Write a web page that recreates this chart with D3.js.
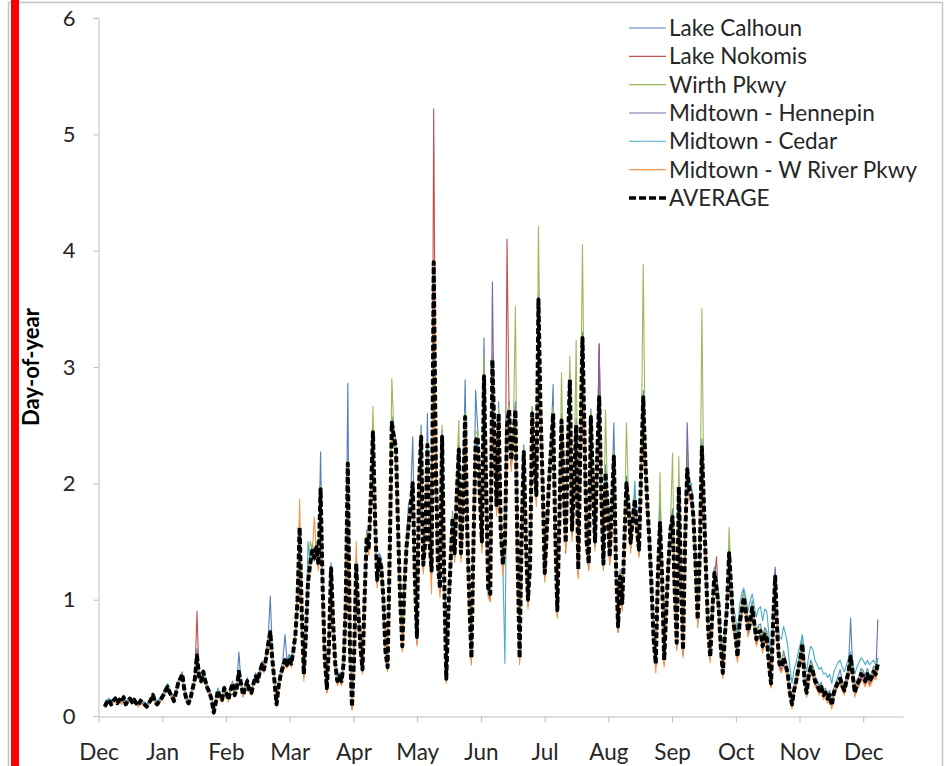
<!DOCTYPE html>
<html>
<head>
<meta charset="utf-8">
<script src="https://cdn.jsdelivr.net/npm/d3@7/dist/d3.min.js"></script>
<style>
  body { margin: 0; background: #fff; }
  svg { display: block; }
  text { font-family: Lato, "Open Sans", sans-serif; }
</style>
</head>
<body>
<svg id="chart" width="945" height="766"></svg>
<script>
// Month labels along the x axis and the value ticks on the y axis
const monthLabels = ["Dec","Jan","Feb","Mar","Apr","May","Jun","Jul","Aug","Sep","Oct","Nov","Dec"];
const yTicks = [0, 1, 2, 3, 4, 5, 6];
const firstDay = 3;          // first reading falls on the 4th day after the Dec tick
const daysPerMonth = 30.42;

const seriesNames = ["Lake Calhoun","Lake Nokomis","Wirth Pkwy","Midtown - Hennepin","Midtown - Cedar","Midtown - W River Pkwy"];
const seriesColors = ["#4F81BD","#C0504D","#9BBB59","#8064A2","#4BACC6","#F79646"];

// Daily values per station
const lakeCalhoun = [
0.10,0.14,0.15,0.12,0.14,0.17,0.13,0.15,0.13,0.18,0.12,0.15,0.16,0.14,0.15,0.12,0.11,0.15,0.13,0.12,0.10,0.12,0.16,0.20,0.14,0.12,0.15,
0.17,0.20,0.25,0.28,0.23,0.19,0.15,0.22,0.30,0.34,0.38,0.24,0.16,0.12,0.18,0.26,0.34,0.58,0.36,0.33,0.40,0.32,0.26,0.22,0.16,0.05,0.14,0.24,0.18,0.16,0.26,
0.22,0.16,0.24,0.30,0.20,0.27,0.55,0.30,0.20,0.26,0.33,0.24,0.22,0.30,0.37,0.33,0.41,0.47,0.43,0.54,0.68,1.03,0.52,0.32,0.12,0.29,0.40,0.48,0.70,0.47,0.53,
0.48,0.60,0.74,1.05,1.66,0.94,0.38,0.74,1.20,1.36,1.48,1.40,1.50,1.34,2.27,1.15,0.53,0.26,0.63,1.32,0.84,0.48,0.33,0.37,0.32,0.50,1.05,2.86,0.66,0.10,0.53,
1.36,0.95,0.63,0.43,1.05,1.60,1.50,1.96,2.50,1.75,1.22,1.40,1.36,1.05,0.58,0.45,1.45,2.58,2.46,2.36,1.66,1.05,0.63,1.16,1.52,1.83,1.88,2.40,1.26,0.72,
2.06,2.50,1.36,1.56,2.60,1.55,1.30,3.70,2.26,1.36,1.15,2.46,1.26,0.36,0.95,1.36,1.76,1.46,1.96,2.35,1.46,1.88,2.89,1.66,1.06,0.55,1.56,2.80,2.46,1.96,
1.56,3.25,2.06,1.16,1.10,3.10,2.46,1.86,2.70,1.66,1.36,1.56,2.56,2.70,2.26,2.46,2.70,1.46,0.55,1.66,2.33,1.56,1.06,1.36,2.66,2.26,1.96,3.62,2.66,2.06,
1.30,1.66,2.06,2.36,2.85,1.66,0.96,1.76,2.60,2.06,1.56,2.36,2.95,1.66,2.06,2.56,1.33,2.36,3.30,2.46,1.56,1.38,2.64,2.06,1.56,2.26,3.20,1.96,1.38,2.16,1.86,
1.44,1.86,2.52,1.36,0.82,1.26,1.02,1.56,2.06,1.86,1.55,1.76,1.92,1.66,1.50,2.16,2.80,2.26,1.86,1.55,1.16,0.70,0.50,1.26,1.90,1.26,0.53,0.96,1.36,1.66,
1.78,1.16,0.68,2.03,1.26,0.62,1.56,2.20,2.00,1.96,1.76,1.36,0.88,1.46,2.38,1.86,1.28,0.80,0.55,0.96,1.28,1.16,1.00,0.65,0.40,0.75,0.99,1.46,1.16,0.86,
0.76,0.56,0.86,0.96,1.08,0.96,0.78,0.86,0.99,0.86,0.72,0.78,0.79,0.66,0.76,0.73,0.50,0.32,0.86,1.26,0.76,0.50,0.47,0.56,0.49,0.40,0.24,0.13,0.26,0.34,
0.45,0.56,0.68,0.35,0.24,0.40,0.48,0.43,0.34,0.31,0.26,0.29,0.22,0.24,0.19,0.22,0.12,0.24,0.29,0.34,0.40,0.30,0.26,0.34,0.43,0.84,0.40,0.24,0.31,0.34,0.41,0.39,0.34,0.41,0.34,0.37,0.43,0.41,0.50
];
const lakeNokomis = [
0.07,0.11,0.13,0.09,0.12,0.14,0.10,0.13,0.11,0.15,0.09,0.12,0.14,0.11,0.13,0.10,0.08,0.12,0.11,0.09,0.07,0.10,0.13,0.17,0.11,0.09,0.12,
0.14,0.17,0.21,0.24,0.19,0.16,0.12,0.19,0.27,0.31,0.35,0.21,0.13,0.10,0.15,0.23,0.31,0.90,0.33,0.29,0.37,0.29,0.23,0.19,0.13,0.02,0.11,0.21,0.15,0.13,0.23,
0.19,0.13,0.21,0.27,0.17,0.23,0.37,0.27,0.17,0.23,0.29,0.21,0.19,0.27,0.33,0.29,0.37,0.43,0.39,0.49,0.61,0.70,0.47,0.29,0.09,0.25,0.35,0.41,0.47,0.43,0.49,
0.44,0.55,0.69,0.98,1.60,0.88,0.34,0.68,1.12,1.28,1.40,1.34,1.43,1.28,1.92,1.08,0.48,0.20,0.58,1.25,0.78,0.43,0.28,0.32,0.28,0.43,0.92,2.12,0.58,0.06,0.48,
1.28,0.88,0.58,0.38,0.98,1.51,1.42,1.86,2.40,1.66,1.14,1.32,1.25,0.97,0.52,0.40,1.36,2.48,2.36,2.26,1.56,0.97,0.58,1.07,1.42,1.60,1.76,1.96,1.16,0.62,
1.96,2.36,1.26,1.46,2.28,1.46,1.20,5.22,2.15,1.26,1.06,2.35,1.16,0.30,0.86,1.25,1.65,1.36,1.85,2.24,1.36,1.76,2.52,1.56,0.96,0.47,1.45,2.30,2.36,1.86,
1.45,2.88,1.96,1.05,1.00,3.00,2.35,1.75,2.55,1.55,1.25,1.45,4.10,2.58,2.15,2.35,2.58,1.35,0.47,1.55,2.22,1.45,0.95,1.25,2.55,2.15,1.85,3.52,2.55,1.95,
1.18,1.55,1.95,2.25,2.55,1.55,0.86,1.65,2.48,1.95,1.40,2.25,2.84,1.55,1.95,2.45,1.20,2.25,3.20,2.35,1.45,1.26,2.52,1.95,1.45,2.15,3.20,1.85,1.26,2.04,1.75,
1.30,1.75,2.18,1.25,0.72,1.15,0.92,1.45,1.95,1.75,1.44,1.65,1.81,1.55,1.38,2.05,2.68,2.15,1.75,1.44,1.05,0.60,0.42,1.15,1.60,1.15,0.44,0.85,1.25,1.55,
1.66,1.05,0.58,1.92,1.15,0.52,1.45,2.06,1.90,1.85,1.65,1.25,0.78,1.35,2.25,1.75,1.18,0.70,0.48,0.85,1.18,1.37,0.90,0.56,0.34,0.66,0.90,1.35,1.05,0.76,
0.66,0.48,0.76,0.86,0.98,0.86,0.70,0.76,0.89,0.76,0.62,0.68,0.69,0.56,0.66,0.63,0.42,0.25,0.76,1.16,0.66,0.42,0.39,0.46,0.41,0.33,0.18,0.08,0.20,0.27,
0.37,0.47,0.58,0.27,0.18,0.32,0.39,0.35,0.27,0.25,0.20,0.23,0.16,0.18,0.13,0.16,0.08,0.18,0.23,0.27,0.29,0.24,0.20,0.27,0.35,0.48,0.32,0.18,0.25,0.27,0.33,0.31,0.27,0.33,0.27,0.30,0.35,0.33,0.42
];
const wirthPkwy = [
0.09,0.13,0.12,0.11,0.14,0.13,0.12,0.15,0.11,0.15,0.11,0.12,0.16,0.13,0.13,0.12,0.10,0.12,0.13,0.11,0.09,0.12,0.13,0.17,0.13,0.11,0.12,
0.16,0.19,0.21,0.26,0.21,0.16,0.14,0.19,0.29,0.31,0.37,0.23,0.15,0.12,0.17,0.25,0.31,0.50,0.35,0.31,0.37,0.31,0.25,0.21,0.15,0.04,0.13,0.23,0.17,0.15,0.25,
0.21,0.15,0.23,0.29,0.19,0.25,0.37,0.29,0.19,0.25,0.31,0.23,0.21,0.29,0.35,0.31,0.39,0.45,0.41,0.51,0.63,0.74,0.49,0.31,0.11,0.27,0.37,0.43,0.49,0.45,0.51,
0.46,0.57,0.72,1.02,1.64,0.92,0.37,0.72,1.18,1.50,1.44,1.38,1.47,1.32,1.98,1.12,0.52,0.25,0.62,1.29,0.82,0.46,0.31,0.35,0.31,0.46,0.97,2.20,0.62,0.09,0.52,
1.33,0.92,0.62,0.41,1.02,1.58,1.48,1.94,2.66,1.72,1.19,1.37,1.30,1.02,0.57,0.44,1.44,2.90,2.44,2.34,1.62,1.02,0.62,1.12,1.47,1.65,1.82,2.02,1.22,0.70,
2.04,2.44,1.33,1.53,2.36,1.53,1.28,3.80,2.24,1.33,1.13,2.50,1.23,0.33,0.92,1.33,1.74,1.43,2.10,2.54,1.43,1.84,2.62,1.64,1.03,0.44,1.54,2.42,2.46,1.94,
1.54,3.10,2.04,1.13,1.08,3.12,2.44,1.84,2.65,1.64,1.33,1.54,2.54,2.68,2.24,2.44,3.52,1.44,0.52,1.64,2.30,1.54,1.03,1.34,2.66,2.26,1.94,4.21,2.66,2.04,
1.26,1.64,2.04,2.34,2.66,1.64,0.94,1.74,2.95,2.04,1.52,2.34,3.09,1.64,2.04,3.23,1.29,2.34,4.05,2.44,1.54,1.34,2.62,2.04,1.54,2.24,2.80,1.94,1.34,2.63,1.84,
1.40,1.84,2.28,1.34,0.80,1.24,1.00,1.54,2.52,1.84,1.52,1.74,1.90,1.64,1.46,2.14,3.88,2.24,1.84,1.52,1.14,0.68,0.48,1.24,2.09,1.24,0.52,0.94,1.34,1.64,
2.26,1.14,0.66,2.23,1.24,0.60,1.54,2.30,1.98,1.94,1.74,1.34,0.86,1.44,3.50,1.84,1.26,0.78,0.54,0.94,1.26,1.14,0.98,0.63,0.40,0.74,0.98,1.62,1.14,0.84,
0.73,0.54,0.84,0.94,1.06,0.94,0.76,0.84,0.97,0.84,0.69,0.76,0.77,0.63,0.74,0.70,0.48,0.30,0.84,1.24,0.74,0.48,0.45,0.54,0.47,0.39,0.22,0.12,0.24,0.32,
0.42,0.53,0.65,0.33,0.22,0.38,0.45,0.41,0.32,0.29,0.24,0.27,0.20,0.22,0.17,0.20,0.11,0.22,0.27,0.31,0.34,0.28,0.24,0.32,0.41,0.54,0.38,0.22,0.29,0.32,0.39,0.36,0.32,0.39,0.32,0.35,0.41,0.39,0.48
];
const midtownHennepin = [
0.08,0.11,0.14,0.10,0.12,0.15,0.11,0.13,0.12,0.16,0.10,0.13,0.14,0.12,0.14,0.11,0.09,0.13,0.11,0.10,0.08,0.11,0.14,0.18,0.12,0.10,0.13,
0.15,0.18,0.22,0.25,0.20,0.17,0.13,0.20,0.28,0.32,0.36,0.22,0.14,0.11,0.16,0.24,0.32,0.48,0.34,0.30,0.38,0.30,0.24,0.20,0.14,0.03,0.12,0.22,0.16,0.14,0.24,
0.20,0.14,0.22,0.28,0.18,0.24,0.36,0.28,0.18,0.24,0.30,0.22,0.20,0.28,0.34,0.30,0.38,0.44,0.40,0.50,0.60,0.68,0.48,0.30,0.10,0.26,0.36,0.42,0.46,0.44,0.50,
0.43,0.54,0.68,0.97,1.58,0.87,0.34,0.68,1.12,1.27,1.39,1.33,1.42,1.27,1.90,1.07,0.48,0.22,0.58,1.23,0.77,0.43,0.28,0.32,0.28,0.43,0.92,2.10,0.58,0.07,0.48,
1.28,0.87,0.58,0.38,0.97,1.50,1.42,1.86,2.38,1.66,1.14,1.32,1.25,0.97,0.53,0.40,1.36,2.46,2.34,2.25,1.56,0.97,0.58,1.07,1.42,1.59,1.76,1.96,1.17,0.66,
1.96,2.35,1.27,1.46,2.28,1.46,1.22,3.82,2.15,1.27,1.07,2.35,1.17,0.30,0.87,1.27,1.66,1.37,1.86,2.24,1.37,1.76,2.51,1.56,0.97,0.48,1.46,2.30,2.35,1.86,
1.46,2.86,1.96,1.07,1.02,3.73,2.35,1.76,2.54,1.56,1.27,1.46,2.44,2.57,2.15,2.35,2.57,1.37,0.48,1.56,2.22,1.46,0.97,1.27,2.54,2.15,1.86,3.50,2.54,1.96,
1.20,1.56,1.96,2.26,2.55,1.58,0.88,1.66,2.50,1.96,1.46,2.26,2.84,1.56,1.96,2.45,1.22,2.26,3.20,2.36,1.46,1.28,2.52,1.96,1.46,2.16,3.15,1.86,1.28,2.04,1.76,
1.34,1.76,2.18,1.26,0.74,1.16,0.94,1.46,1.96,1.76,1.45,1.66,1.82,1.56,1.40,2.06,2.68,2.16,1.76,1.45,1.06,0.62,0.43,1.16,1.62,1.16,0.46,0.86,1.26,1.56,
1.67,1.06,0.60,1.92,1.16,0.54,1.46,2.52,1.90,1.86,1.66,1.26,0.80,1.36,2.26,1.76,1.20,0.72,0.49,0.86,1.20,1.06,0.92,0.57,0.35,0.67,0.91,1.36,1.06,0.77,
0.67,0.49,0.77,0.87,0.99,0.87,0.70,0.77,0.90,0.77,0.63,0.69,0.70,0.57,0.67,0.64,0.43,0.26,0.77,1.28,0.67,0.43,0.40,0.47,0.42,0.34,0.19,0.09,0.21,0.28,
0.38,0.48,0.60,0.28,0.19,0.33,0.40,0.36,0.28,0.26,0.21,0.24,0.17,0.19,0.14,0.17,0.08,0.19,0.24,0.28,0.31,0.25,0.21,0.29,0.37,0.50,0.34,0.19,0.26,0.29,0.35,0.33,0.29,0.35,0.29,0.32,0.37,0.35,0.83
];
const midtownCedar = [
0.09,0.12,0.15,0.11,0.13,0.14,0.12,0.14,0.13,0.15,0.11,0.14,0.15,0.13,0.14,0.12,0.10,0.13,0.12,0.11,0.09,0.12,0.15,0.17,0.13,0.11,0.14,
0.16,0.19,0.23,0.27,0.22,0.19,0.16,0.22,0.29,0.31,0.34,0.24,0.16,0.13,0.18,0.25,0.33,0.48,0.36,0.32,0.37,0.31,0.26,0.22,0.16,0.06,0.14,0.23,0.18,0.16,0.25,
0.21,0.16,0.23,0.28,0.20,0.25,0.37,0.29,0.20,0.25,0.30,0.24,0.22,0.29,0.34,0.31,0.39,0.44,0.42,0.50,0.60,0.70,0.50,0.33,0.14,0.28,0.37,0.42,0.48,0.46,0.52,
0.47,0.58,0.72,1.00,1.58,0.90,0.40,0.72,1.50,1.32,1.42,1.36,1.44,1.30,1.92,1.10,0.52,0.28,0.62,1.26,0.80,0.48,0.33,0.36,0.33,0.47,0.95,2.12,0.62,0.12,0.52,
1.30,0.90,0.62,0.44,1.00,1.52,1.45,1.88,2.40,1.70,1.18,1.35,1.28,1.00,0.58,0.46,1.40,2.48,2.38,2.28,1.60,1.02,0.63,1.10,1.45,1.62,1.78,1.98,1.22,0.72,
1.98,2.38,1.32,1.50,2.30,1.50,1.27,3.85,2.20,1.32,1.12,2.38,1.22,0.36,0.92,1.30,1.70,1.42,1.90,2.26,1.42,1.80,2.52,1.60,1.02,0.54,1.50,2.34,2.38,1.90,
1.50,2.88,2.00,1.12,1.07,3.00,2.38,1.80,2.58,1.60,1.30,0.45,2.46,2.60,2.20,2.38,2.60,1.42,0.55,1.60,2.25,1.50,1.02,1.30,2.56,2.20,1.90,3.50,2.58,2.00,
1.25,1.60,2.00,2.28,2.58,1.60,0.94,1.70,2.50,2.00,1.50,2.28,2.85,1.60,2.00,2.48,1.28,2.28,3.20,2.38,1.52,1.33,2.55,2.00,1.52,2.20,2.70,1.90,1.33,2.08,1.80,
1.38,1.80,2.20,1.32,0.80,1.22,1.00,1.50,1.98,1.80,1.50,1.70,2.02,1.62,1.45,2.08,2.70,2.20,1.80,1.50,1.12,0.68,0.48,1.22,1.64,1.22,0.52,0.92,1.32,1.62,
1.70,1.14,0.68,1.95,1.24,0.62,1.52,2.10,2.00,2.00,1.76,1.34,0.88,1.42,2.28,1.82,1.28,0.80,0.58,0.96,1.28,1.16,1.02,0.70,0.48,0.78,1.00,1.42,1.18,0.92,
0.86,0.70,0.95,1.05,1.10,1.02,0.90,0.98,1.05,0.95,0.85,0.92,0.94,0.82,0.92,0.90,0.70,0.52,0.90,1.20,0.86,0.68,0.66,0.77,0.70,0.60,0.42,0.28,0.40,0.46,
0.55,0.62,0.70,0.46,0.38,0.52,0.60,0.57,0.48,0.44,0.40,0.42,0.36,0.37,0.33,0.36,0.28,0.38,0.42,0.46,0.48,0.42,0.38,0.44,0.50,0.55,0.48,0.36,0.42,0.46,0.50,0.48,0.44,0.48,0.44,0.46,0.48,0.44,0.50
];
const midtownWRiver = [
0.07,0.11,0.12,0.09,0.11,0.13,0.10,0.12,0.10,0.14,0.09,0.11,0.13,0.10,0.12,0.10,0.08,0.11,0.10,0.09,0.07,0.10,0.12,0.16,0.11,0.09,0.11,
0.13,0.16,0.20,0.23,0.18,0.15,0.11,0.18,0.26,0.30,0.33,0.20,0.12,0.09,0.14,0.22,0.30,0.45,0.31,0.28,0.35,0.28,0.22,0.18,0.12,0.01,0.10,0.20,0.14,0.12,0.22,
0.18,0.12,0.20,0.26,0.16,0.22,0.34,0.26,0.16,0.22,0.28,0.20,0.18,0.26,0.31,0.28,0.35,0.41,0.37,0.47,0.58,0.66,0.44,0.28,0.08,0.23,0.33,0.38,0.44,0.41,0.46,
0.42,0.52,0.66,0.95,1.86,0.85,0.30,0.65,1.10,1.25,1.38,1.71,1.40,1.25,1.88,1.02,0.44,0.20,0.55,1.22,0.74,0.40,0.26,0.30,0.26,0.40,0.88,2.10,0.54,0.05,0.45,
1.50,0.84,0.55,0.36,0.94,1.48,1.38,1.84,2.36,1.62,1.10,1.28,1.22,0.94,0.50,0.38,1.34,2.44,2.32,2.22,1.52,0.94,0.55,1.04,1.38,1.56,1.72,1.92,1.12,0.60,
1.92,2.32,1.22,1.42,2.25,1.42,1.05,3.70,2.12,1.22,1.02,2.32,1.12,0.28,0.82,1.22,1.62,1.32,1.82,2.20,1.32,1.72,2.48,1.52,0.92,0.44,1.42,2.28,2.32,1.82,
1.40,2.82,1.92,1.02,0.98,2.95,2.32,1.72,2.50,1.50,1.20,1.40,2.40,2.55,2.10,2.32,2.55,1.30,0.44,1.50,2.18,1.40,0.92,1.22,2.50,2.10,1.80,3.45,2.50,1.90,
1.15,1.50,1.90,2.20,2.50,1.50,0.84,1.62,2.45,1.90,1.42,2.20,2.80,1.50,1.90,2.40,1.18,2.20,3.15,2.30,1.42,1.25,2.48,1.90,1.42,2.10,2.66,1.82,1.25,2.00,1.72,
1.30,1.72,2.14,1.22,0.72,1.12,0.90,1.42,1.92,1.72,1.40,1.62,1.78,1.50,1.36,2.02,2.64,2.12,1.72,1.40,1.02,0.58,0.37,1.12,1.56,1.12,0.42,0.82,1.22,1.52,
1.62,1.02,0.56,1.88,1.12,0.50,1.42,2.04,1.86,1.82,1.62,1.22,0.76,1.32,2.22,1.72,1.15,0.68,0.46,0.82,1.15,1.02,0.88,0.54,0.32,0.64,0.88,1.32,1.02,0.74,
0.64,0.46,0.74,0.84,0.96,0.84,0.68,0.74,0.87,0.74,0.60,0.66,0.67,0.54,0.64,0.61,0.40,0.24,0.74,1.14,0.64,0.40,0.37,0.44,0.39,0.31,0.16,0.06,0.18,0.25,
0.35,0.45,0.56,0.25,0.16,0.30,0.37,0.33,0.25,0.23,0.18,0.21,0.14,0.16,0.11,0.14,0.06,0.16,0.21,0.25,0.27,0.22,0.18,0.25,0.33,0.46,0.30,0.16,0.23,0.25,0.31,0.29,0.25,0.31,0.25,0.28,0.33,0.31,0.40
];
// Daily average across the stations
const average = [
0.08,0.12,0.14,0.10,0.13,0.15,0.11,0.14,0.12,0.16,0.10,0.13,0.15,0.12,0.14,0.11,0.09,0.13,0.12,0.10,0.08,0.11,0.14,0.18,0.12,0.10,0.13,
0.15,0.18,0.22,0.25,0.20,0.17,0.13,0.20,0.28,0.32,0.36,0.22,0.14,0.11,0.16,0.24,0.32,0.52,0.34,0.30,0.38,0.30,0.24,0.20,0.14,0.03,0.12,0.22,0.16,0.14,0.24,
0.20,0.14,0.22,0.28,0.18,0.24,0.38,0.28,0.18,0.24,0.30,0.22,0.20,0.28,0.34,0.30,0.38,0.44,0.40,0.50,0.62,0.72,0.48,0.30,0.10,0.26,0.36,0.42,0.48,0.44,0.50,
0.45,0.56,0.70,1.00,1.62,0.90,0.36,0.70,1.15,1.30,1.42,1.36,1.45,1.30,1.95,1.10,0.50,0.24,0.60,1.27,0.80,0.45,0.30,0.34,0.30,0.45,0.95,2.17,0.60,0.08,0.50,
1.31,0.90,0.60,0.40,1.00,1.54,1.45,1.90,2.44,1.70,1.17,1.35,1.28,1.00,0.55,0.42,1.40,2.52,2.40,2.30,1.60,1.00,0.60,1.10,1.45,1.63,1.80,2.00,1.20,0.68,
2.00,2.40,1.30,1.50,2.33,1.50,1.25,3.90,2.20,1.30,1.10,2.40,1.20,0.32,0.90,1.30,1.70,1.40,1.90,2.29,1.40,1.80,2.57,1.60,1.00,0.50,1.50,2.36,2.40,1.90,
1.50,2.92,2.00,1.10,1.05,3.06,2.40,1.80,2.60,1.60,1.30,1.50,2.50,2.63,2.20,2.40,2.63,1.40,0.50,1.60,2.27,1.50,1.00,1.30,2.60,2.20,1.90,3.58,2.60,2.00,
1.23,1.60,2.00,2.30,2.60,1.60,0.91,1.70,2.54,2.00,1.49,2.30,2.89,1.60,2.00,2.50,1.26,2.30,3.25,2.40,1.50,1.31,2.57,2.00,1.50,2.20,2.74,1.90,1.31,2.09,1.80,
1.37,1.80,2.23,1.30,0.77,1.20,0.97,1.50,2.00,1.80,1.49,1.70,1.86,1.60,1.43,2.10,2.74,2.20,1.80,1.49,1.10,0.65,0.45,1.20,1.66,1.20,0.48,0.90,1.30,1.60,
1.71,1.10,0.63,1.97,1.20,0.57,1.50,2.12,1.95,1.90,1.70,1.30,0.83,1.40,2.31,1.80,1.23,0.75,0.51,0.90,1.23,1.10,0.95,0.60,0.37,0.70,0.94,1.40,1.10,0.80,
0.70,0.51,0.80,0.90,1.02,0.90,0.73,0.80,0.93,0.80,0.66,0.72,0.73,0.60,0.70,0.67,0.45,0.28,0.80,1.20,0.70,0.45,0.42,0.50,0.44,0.36,0.20,0.10,0.22,0.30,
0.40,0.50,0.62,0.30,0.20,0.35,0.42,0.38,0.30,0.27,0.22,0.25,0.18,0.20,0.15,0.18,0.09,0.20,0.25,0.29,0.32,0.26,0.22,0.30,0.38,0.51,0.35,0.20,0.27,0.30,0.36,0.34,0.30,0.36,0.30,0.33,0.38,0.36,0.45
];

const stations = [lakeCalhoun, lakeNokomis, wirthPkwy, midtownHennepin, midtownCedar, midtownWRiver];

const svg = d3.select("#chart");
const H = 766;

// Chart frame and the red bar on the left edge
svg.append("rect").attr("x", 8.5).attr("y", 2.5).attr("width", 934).attr("height", 780)
  .attr("fill", "#fff").attr("stroke", "#c4c4c4").attr("stroke-width", 1.5);
svg.append("rect").attr("x", 11).attr("y", 0).attr("width", 8).attr("height", H).attr("fill", "#ff0000");

const x = d3.scaleLinear().domain([0, 384]).range([98.5, 903]);
const y = d3.scaleLinear().domain([0, 6]).range([716, 18]);

const axisColor = "#bdbdbd";
const textColor = "#262626";

// y axis
const yAxis = svg.append("g").attr("transform", "translate(98.5,0)")
  .call(d3.axisLeft(y).tickValues(yTicks).tickSize(5).tickPadding(18).tickFormat(d3.format("d")));
yAxis.select(".domain").attr("stroke", axisColor);
yAxis.selectAll(".tick line").attr("stroke", axisColor);
yAxis.selectAll(".tick text").attr("fill", textColor).style("font-size", "22px");

// x axis: one tick per month label
const monthTicks = monthLabels.map((m, k) => k * daysPerMonth);
const xAxis = svg.append("g").attr("transform", "translate(0,716.5)")
  .call(d3.axisBottom(x).tickValues(monthTicks).tickSize(6).tickSizeOuter(0).tickPadding(22)
    .tickFormat((d, k) => monthLabels[k]));
xAxis.select(".domain").attr("stroke", axisColor);
xAxis.selectAll(".tick line").attr("stroke", axisColor);
xAxis.selectAll(".tick text").attr("fill", textColor).style("font-size", "22.5px");

// y axis title
svg.append("text")
  .attr("transform", "translate(39,367) rotate(-90)")
  .attr("text-anchor", "middle")
  .attr("fill", "#000")
  .style("font-size", "22px").style("font-weight", "bold")
  .text("Day-of-year");

// Series lines
const line = d3.line()
  .x((d, i) => x(firstDay + i))
  .y(d => y(d));

const plot = svg.append("g");
stations.forEach((s, k) => {
  plot.append("path").datum(s)
    .attr("fill", "none").attr("stroke", seriesColors[k])
    .attr("stroke-width", 1.1).attr("stroke-linejoin", "round")
    .attr("d", line);
});
plot.append("path").datum(average)
  .attr("fill", "none").attr("stroke", "#000")
  .attr("stroke-width", 4).attr("stroke-dasharray", "6,2.5")
  .attr("stroke-linejoin", "round")
  .attr("d", line);

// Legend
const legendNames = seriesNames.concat(["AVERAGE"]);
const legend = svg.append("g");
legendNames.forEach((name, k) => {
  const cy = 28 + k * 28.33;
  const isAvg = k === legendNames.length - 1;
  legend.append("line")
    .attr("x1", 629).attr("x2", 666).attr("y1", cy).attr("y2", cy)
    .attr("stroke", isAvg ? "#000" : seriesColors[k])
    .attr("stroke-width", isAvg ? 3.6 : 1.1)
    .attr("stroke-dasharray", isAvg ? "7,3" : null);
  legend.append("text")
    .attr("x", 669).attr("y", cy).attr("dy", "0.35em")
    .attr("fill", textColor).style("font-size", "22.5px")
    .text(name);
});
</script>
</body>
</html>
